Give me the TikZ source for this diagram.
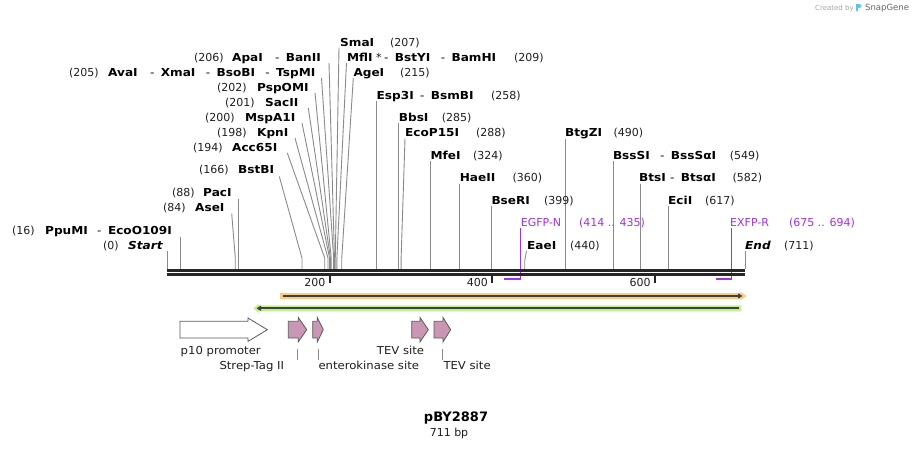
\documentclass[tikz,border=0pt]{standalone}
\usepackage{fontspec}
\setmainfont{DejaVu Sans}
\newfontfamily\bnf{DejaVu Sans}[FakeStretch=1.1]
\newfontfamily\lnf{DejaVu Sans}[FakeStretch=1.06]
\usetikzlibrary{arrows.meta}
\definecolor{cutgray}{HTML}{8A8A8A}
\definecolor{barblack}{HTML}{262626}
\definecolor{primer}{RGB}{160,50,230}
\definecolor{orfill}{HTML}{FBCB80}
\definecolor{grfill}{HTML}{C2F08C}
\definecolor{darkline}{HTML}{404040}
\definecolor{pinkfill}{HTML}{C996B4}
\definecolor{featedge}{HTML}{5A5A5A}
\definecolor{logoblue}{HTML}{5EC3F0}
\newcommand\pinkarrow[4]{\draw[featline, fill=pinkfill] (#1,321.3) -- (#2,321.3) -- (#2,317.5) -- (#3,329.7) -- (#2,341.9) -- (#2,338) -- (#1,338) -- cycle node[coordinate] (#4) {};}
\begin{document}
\begin{tikzpicture}[x=1pt,y=-1pt,
  declare function={sx(\p)=167+\p*0.81294;},
  nm/.style={font=\bnf\bfseries\fontsize{11}{13}\selectfont, inner sep=0pt, anchor=base west, text=black},
  nme/.style={nm, anchor=base east},
  nmi/.style={font=\bnf\bfseries\itshape\fontsize{11}{13}\selectfont, inner sep=0pt, anchor=base west, text=black},
  dsh/.style={font=\bnf\fontsize{11}{13}\selectfont, inner sep=0pt, anchor=base west, text=black},
  dshe/.style={dsh, anchor=base east},
  num/.style={font=\fontsize{11}{13}\selectfont, inner sep=0pt, anchor=base west, text=black!88},
  pnum/.style={font=\fontsize{11}{13}\selectfont, inner sep=0pt, anchor=base west, text=primer},
  flab/.style={font=\lnf\fontsize{11}{13}\selectfont, inner sep=0pt, anchor=base west, text=black!88},
  cut/.style={draw=cutgray, line width=0.9pt},
  featline/.style={draw=featedge, line width=0.8pt, line join=miter},
  prline/.style={draw=primer, line width=1.4pt},
  ruler/.style={draw=barblack, line width=2pt}]
\path[fill=white] (0,0) rectangle (913,448);
\useasboundingbox (0,0) rectangle (913,448);

% ---------- watermark
\node[font=\fontsize{7}{8}\selectfont, text=black!35, inner sep=0pt, anchor=base west] (cb) at (815,10) {Created by};
\fill[logoblue] (856,3.5) rectangle (858.3,11);
\fill[logoblue] (858.3,3.5) .. controls (863,3.5) and (863,8.3) .. (858.3,8.3) -- cycle;
\node[font=\fontsize{8.5}{9}\selectfont, text=black!60, inner sep=0pt, anchor=base west] (sg) at (865,10.5) {SnapGene};

% ---------- primer brackets
\draw[prline] (520.6,228) -- (520.6,279) -- (503.6,279);
\draw[prline] (731.2,228) -- (731.2,279) -- (715.7,279);

% ---------- cut lines
\draw[cut] (167,251) -- (167,269);
\draw[cut] (180,237) -- (180,269);
\draw[cut] (231.7,213.5) -- ({sx(84)},258) -- ({sx(84)},269);
\draw[cut] (238.5,198.5) -- (238.5,269);
\draw[cut] (279.3,176.5) -- ({sx(166)},258) -- ({sx(166)},269);
\draw[cut] (287.3,153) -- ({sx(194)},258) -- ({sx(194)},269);
\draw[cut] (295,138) -- ({sx(198)},258) -- ({sx(198)},269);
\draw[cut] (302,123) -- ({sx(200)},258) -- ({sx(200)},269);
\draw[cut] (308.3,108) -- ({sx(201)},258) -- ({sx(201)},269);
\draw[cut] (315,93) -- ({sx(202)},258) -- ({sx(202)},269);
\draw[cut] (321.5,78) -- ({sx(205)},258) -- ({sx(205)},269);
\draw[cut] (329,63) -- ({sx(206)},258) -- ({sx(206)},269);
\draw[cut] (339,47.5) -- ({sx(207)},258) -- ({sx(207)},269);
\draw[cut] (346.5,63) -- ({sx(209)},258) -- ({sx(209)},269);
\draw[cut] (353.3,78) -- ({sx(215)},258) -- ({sx(215)},269);
\draw[cut] ({sx(258)},101) -- ({sx(258)},269);
\draw[cut] ({sx(285)},123) -- ({sx(285)},269);
\draw[cut] (405,138.5) -- ({sx(288)},258) -- ({sx(288)},269);
\draw[cut] ({sx(324)},161) -- ({sx(324)},269);
\draw[cut] ({sx(360)},183.5) -- ({sx(360)},269);
\draw[cut] ({sx(399)},206) -- ({sx(399)},269);
\draw[cut] (526.5,251) -- ({sx(440)},261) -- ({sx(440)},269);
\draw[cut] ({sx(490)},138.5) -- ({sx(490)},269);
\draw[cut] ({sx(549)},161) -- ({sx(549)},269);
\draw[cut] ({sx(582)},183.5) -- ({sx(582)},269);
\draw[cut] ({sx(617)},206) -- ({sx(617)},269);
\draw[cut] (745,251) -- (745,269);

% ---------- sequence bar and ruler
\draw[barblack, line width=3pt] (167,270.5) -- (745,270.5);
\draw[barblack, line width=2.4pt] (167,274.5) -- (745,274.5);
\foreach \t in {200,400,600}{
  \draw[ruler] ({sx(\t)},275) -- ({sx(\t)},282.5);
  \node[num, anchor=base east] (t\t) at ({sx(\t)-4},286) {\t};
}

% ---------- left labels
\node[nm] (smai) at (340,46) {SmaI};
\node[num] (n207) at (390,46) {(207)};

\node[num] (n206) at (194,61) {(206)};
\node[nm] (apai) at (232,61) {ApaI};
\node[nme] (banii) at (321,61) {BanII};
\node[dshe] (d1) at ([xshift=-6pt]banii.base west) {-};

\node[nm] (mfli) at (347,61) {MflI};
\node[num] (ast) at (376,61) {*};
\node[dsh] (d2) at (384,61) {-};
\node[nm] (bstyi) at ([xshift=6pt]d2.base east) {BstYI};
\node[dsh] (d3) at ([xshift=10pt]bstyi.base east) {-};
\node[nm] (bamhi) at ([xshift=6pt]d3.base east) {BamHI};
\node[num] (n209) at (514,61) {(209)};

\node[num] (n205) at (69,76) {(205)};
\node[nm] (avai) at (108,76) {AvaI};
\node[nme] (tspmi) at (315.5,76) {TspMI};
\node[dshe] (d6) at ([xshift=-6pt]tspmi.base west) {-};
\node[nme] (bsobi) at ([xshift=-10pt]d6.base west) {BsoBI};
\node[dshe] (d5) at ([xshift=-6pt]bsobi.base west) {-};
\node[nme] (xmai) at ([xshift=-10pt]d5.base west) {XmaI};
\node[dshe] (d4) at ([xshift=-6pt]xmai.base west) {-};
\node[nm] (agei) at (353.3,76) {AgeI};
\node[num] (n215) at (400,76) {(215)};

\node[num] (n202) at (217,91) {(202)};
\node[nm] (pspomi) at (257,91) {PspOMI};
\node[num] (n201) at (225,106) {(201)};
\node[nm] (sacii) at (265,106) {SacII};
\node[num] (n200) at (205,121) {(200)};
\node[nm] (mspa1i) at (245,121) {MspA1I};
\node[num] (n198) at (217,136) {(198)};
\node[nm] (kpni) at (257,136) {KpnI};
\node[num] (n194) at (193,151) {(194)};
\node[nm] (acc65i) at (232,151) {Acc65I};
\node[num] (n166) at (199,173.5) {(166)};
\node[nm] (bstbi) at (238,173.5) {BstBI};
\node[num] (n88) at (172,196) {(88)};
\node[nm] (paci) at (203,196) {PacI};
\node[num] (n84) at (163,211) {(84)};
\node[nm] (asei) at (195,211) {AseI};
\node[num] (n16) at (12,234) {(16)};
\node[nm] (ppumi) at (45,234) {PpuMI};
\node[nme] (eco109) at (172,234) {EcoO109I};
\node[dshe] (d7) at ([xshift=-6pt]eco109.base west) {-};
\node[num] (n0) at (103,249) {(0)};
\node[nmi] (start) at (128,249) {Start};

% ---------- right labels
\node[nm] (esp3i) at (376.5,99) {Esp3I};
\node[dsh] (d8) at (420,99) {-};
\node[nm] (bsmbi) at ([xshift=6pt]d8.base east) {BsmBI};
\node[num] (n258) at (491,99) {(258)};
\node[nm] (bbsi) at (398.7,121) {BbsI};
\node[num] (n285) at (441.7,121) {(285)};
\node[nm] (ecop15i) at (405,136.5) {EcoP15I};
\node[num] (n288) at (476,136.5) {(288)};
\node[nm] (btgzi) at (565,136.5) {BtgZI};
\node[num] (n490) at (613.5,136.5) {(490)};
\node[nm] (mfei) at (430.4,159) {MfeI};
\node[num] (n324) at (473,159) {(324)};
\node[nm] (bsssi) at (612.8,159) {BssSI};
\node[dsh] (d9) at (660,159) {-};
\node[nm] (bsssai) at ([xshift=6pt]d9.base east) {BssSαI};
\node[num] (n549) at (729.7,159) {(549)};
\node[nm] (haeii) at (459.6,181.5) {HaeII};
\node[num] (n360) at (512.5,181.5) {(360)};
\node[nm] (btsi) at (639,181.5) {BtsI};
\node[dsh] (d10) at (670,181.5) {-};
\node[nm] (btsai) at ([xshift=6pt]d10.base east) {BtsαI};
\node[num] (n582) at (732.5,181.5) {(582)};
\node[nm] (bseri) at (491.3,204) {BseRI};
\node[num] (n399) at (544,204) {(399)};
\node[nm] (ecii) at (668,204) {EciI};
\node[num] (n617) at (705,204) {(617)};
\node[pnum] (egfpn) at (520.6,226.5) {EGFP-N};
\node[pnum] (egfpr) at (579,226.5) {(414 .. 435)};
\node[pnum] (exfpr) at (730,226.5) {EXFP-R};
\node[pnum] (exfpn) at (789,226.5) {(675 .. 694)};
\node[nm] (eaei) at (527,249) {EaeI};
\node[num] (n440) at (570,249) {(440)};
\node[nmi] (endl) at (745,249) {End};
\node[num] (n711) at (784,249) {(711)};

% ---------- feature bars
\fill[orfill] (280,293) -- (740.5,293) -- (740.5,291.8) -- (746.5,296) -- (740.5,300.2) -- (740.5,299) -- (280,299) -- cycle;
\draw[darkline, line width=1.8pt, -{Triangle[length=4.5pt,width=5pt]}] (282.5,296) -- (742.5,296);
\fill[grfill] (253.3,308.3) -- (259,303.8) -- (259,305.3) -- (741,305.3) -- (741,311.3) -- (259,311.3) -- (259,312.8) -- cycle;
\draw[darkline, line width=1.8pt, -{Triangle[length=4.5pt,width=5pt]}] (739,308.3) -- (256.5,308.3);

% ---------- features
\draw[featline, fill=white] (180,321.3) -- (248,321.3) -- (248,318) -- (267.3,329.7) -- (248,341.4) -- (248,338) -- (180,338) -- cycle;
\pinkarrow{288.3}{298.3}{306.7}{strep}
\pinkarrow{312.7}{317.3}{323.3}{entk}
\pinkarrow{411.7}{420}{428.3}{tev1}
\pinkarrow{434}{443}{450.7}{tev2}

\draw[cutgray, line width=0.8pt] (297.3,349) -- (297.3,359.5);
\draw[cutgray, line width=0.8pt] (318.3,349) -- (318.3,359.5);
\draw[cutgray, line width=0.8pt] (442.7,349) -- (442.7,359.5);

\node[flab] (p10) at (180.5,354.5) {p10 promoter};
\node[flab] (strepl) at (219.3,369.5) {Strep-Tag II};
\node[flab] (entkl) at (318.3,369.5) {enterokinase site};
\node[flab] (tev1l) at (376.7,354.5) {TEV site};
\node[flab] (tev2l) at (443.3,369.5) {TEV site};

% ---------- title
\node[font=\bfseries\fontsize{13}{15}\selectfont, inner sep=0pt, anchor=base] (title) at (456,421.5) {pBY2887};
\node[font=\fontsize{11}{13}\selectfont, inner sep=0pt, anchor=base, text=black!88] (bp) at (449,436) {711 bp};
\end{tikzpicture}
\end{document}
